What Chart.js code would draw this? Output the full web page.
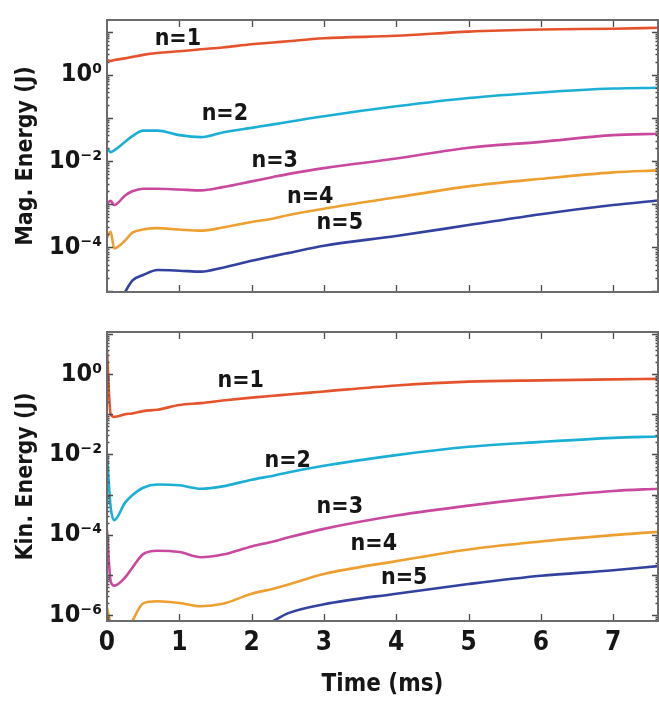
<!DOCTYPE html>
<html>
<head>
<meta charset="utf-8">
<script src="https://cdn.jsdelivr.net/npm/chart.js@4/dist/chart.umd.min.js"></script>
<style>
  html, body { margin: 0; padding: 0; background: #fff; }
  #wrap { position: relative; width: 659px; height: 702px; }
  .pane { position: absolute; left: 0; width: 659px; }
</style>
</head>
<body>
<div id="wrap">
  <div class="pane" style="top:0;height:312px"><canvas id="mag"></canvas></div>
  <div class="pane" style="top:312px;height:390px"><canvas id="kin"></canvas></div>
</div>
<script>
// Sample times (ms)
const time = [0, 0.05, 0.1, 0.25, 0.35, 0.5, 0.7, 1.0, 1.3, 1.6, 2.0, 2.3, 2.5, 3.0, 4.0, 5.0, 6.0, 7.0, 7.62];
const modeNames = ['n=1', 'n=2', 'n=3', 'n=4', 'n=5'];
const xTicks = [0, 1, 2, 3, 4, 5, 6, 7];

// Magnetic energy per toroidal mode (J)
const magN1 = [2.2, 2.1, 2.2, 2.4, 2.6, 2.9, 3.2, 3.5, 3.9, 4.3, 5.1, 5.6, 6.0, 7.0, 8.0, 10.0, 11.2, 11.7, 12.3];
const magN2 = [0.020, 0.0162, 0.0178, 0.028, 0.038, 0.051, 0.051, 0.040, 0.036, 0.046, 0.059, 0.071, 0.081, 0.11, 0.186, 0.29, 0.39, 0.48, 0.50];
const magN3 = [1.05e-3, 1.2e-3, 9.6e-4, 1.6e-3, 2.0e-3, 2.3e-3, 2.3e-3, 2.2e-3, 2.1e-3, 2.5e-3, 3.4e-3, 4.3e-3, 5.0e-3, 6.9e-3, 0.0115, 0.0204, 0.028, 0.040, 0.043];
const magN4 = [1.7e-4, 2.3e-4, 9.5e-5, 1.45e-4, 2.2e-4, 2.6e-4, 2.8e-4, 2.6e-4, 2.45e-4, 2.9e-4, 3.9e-4, 4.7e-4, 5.6e-4, 7.9e-4, 1.45e-3, 2.6e-3, 3.9e-3, 5.5e-3, 6.1e-3];
const magN5 = [null, null, null, 9.3e-6, 1.7e-5, 2.3e-5, 3.0e-5, 2.9e-5, 2.75e-5, 3.4e-5, 4.9e-5, 6.3e-5, 7.4e-5, 1.1e-4, 1.85e-4, 3.3e-4, 5.9e-4, 9.6e-4, 1.23e-3];

// Kinetic energy per toroidal mode (J)
const kinN1 = [3.9, 0.10, 0.086, 0.10, 0.105, 0.12, 0.13, 0.17, 0.19, 0.22, 0.26, 0.29, 0.31, 0.37, 0.52, 0.65, 0.70, 0.74, 0.76];
const kinN2 = [0.0105, 5e-4, 2.3e-4, 6.3e-4, 9.6e-4, 1.48e-3, 1.78e-3, 1.7e-3, 1.4e-3, 1.6e-3, 2.35e-3, 2.95e-3, 3.55e-3, 5.2e-3, 9.6e-3, 0.0155, 0.0205, 0.0259, 0.028];
const kinN3 = [1.3e-4, 7e-6, 5.4e-6, 8.6e-6, 1.5e-5, 3.3e-5, 4.0e-5, 3.7e-5, 2.75e-5, 3.2e-5, 5.1e-5, 6.8e-5, 8.5e-5, 1.4e-4, 3.0e-4, 5.3e-4, 8.5e-4, 1.23e-3, 1.4e-3];
const kinN4 = [1.5e-6, 6e-7, null, null, 7.1e-7, 1.95e-6, 2.2e-6, 2.0e-6, 1.65e-6, 1.9e-6, 3.4e-6, 4.5e-6, 5.7e-6, 1.05e-5, 2.2e-5, 4.3e-5, 6.8e-5, 9.8e-5, 1.18e-4];
const kinN5 = [null, null, null, null, null, null, null, null, null, null, null, 7.1e-7, 1.1e-6, 1.85e-6, 3.4e-6, 5.9e-6, 9.5e-6, 1.3e-5, 1.65e-5];

// Where each mode name sits (time in ms, energy in J)
const magTagTime = [0.98, 1.63, 2.32, 2.81, 3.22];
const magTagEnergy = [6.6, 0.125, 0.01, 1.5e-3, 3.6e-4];
const kinTagTime = [1.85, 2.50, 3.22, 3.69, 4.11];
const kinTagEnergy = [0.68, 6.8e-3, 4.8e-4, 5.7e-5, 8.5e-6];

const modeColors = ['#e5532d', '#1bafd6', '#c9499e', '#eda030', '#3341a0'];
const FONT = '"DejaVu Sans Condensed", "Liberation Sans Narrow", "DejaVu Sans", sans-serif';
const INK = '#161616';

const SUP = { '-': '\u207B', '0': '\u2070', '1': '\u00B9', '2': '\u00B2', '3': '\u00B3', '4': '\u2074', '5': '\u2075', '6': '\u2076', '7': '\u2077', '8': '\u2078', '9': '\u2079' };
const powerLabel = e => '10' + String(e).split('').map(c => SUP[c]).join('');

function decadeTicks(lo, hi) {
  const out = [];
  for (let e = lo; e <= hi; e++) {
    for (let m = 1; m <= 9; m++) out.push({ value: m * Math.pow(10, e) });
  }
  return out;
}

// Box round the plot area with inward tick marks on all four sides
const framePlugin = {
  id: 'frame',
  afterDatasetsDraw(chart) {
    const { ctx, chartArea: a, scales: { x, y } } = chart;
    ctx.save();
    ctx.strokeStyle = '#4a4a4a';
    ctx.lineWidth = 1.3;
    ctx.beginPath();
    x.ticks.forEach(t => {
      const px = Math.round(x.getPixelForValue(t.value)) + 0.5;
      if (px <= a.left + 1 || px >= a.right - 1) return;
      ctx.moveTo(px, a.bottom); ctx.lineTo(px, a.bottom - 7);
      ctx.moveTo(px, a.top); ctx.lineTo(px, a.top + 7);
    });
    y.ticks.forEach(t => {
      if (t.value < y.min || t.value > y.max) return;
      const e = Math.log10(t.value);
      const major = Math.abs(e - Math.round(e)) < 1e-6;
      const len = major ? 6 : 2.5;
      const py = Math.round(y.getPixelForValue(t.value)) + 0.5;
      ctx.moveTo(a.left, py); ctx.lineTo(a.left + len, py);
      ctx.moveTo(a.right, py); ctx.lineTo(a.right - len, py);
    });
    ctx.stroke();
    ctx.strokeStyle = '#6b6b6b';
    ctx.lineWidth = 2;
    ctx.strokeRect(a.left, a.top, a.right - a.left, a.bottom - a.top);
    ctx.restore();
  }
};

// Mode names written next to their curves
const tagPlugin = {
  id: 'modeTags',
  afterDatasetsDraw(chart, args, opts) {
    const { ctx, scales: { x, y } } = chart;
    ctx.save();
    ctx.fillStyle = INK;
    ctx.font = 'bold 23px ' + FONT;
    ctx.textAlign = 'center';
    ctx.textBaseline = 'middle';
    opts.names.forEach((name, i) => {
      ctx.fillText(name, x.getPixelForValue(opts.t[i]), y.getPixelForValue(opts.e[i]));
    });
    ctx.restore();
  }
};

function buildPanel(canvasId, series, yMin, yMax, decLo, decHi, yTitle, tagT, tagE, bottomPanel) {
  const datasets = series.map((vals, i) => ({
    label: modeNames[i],
    data: time.map((t, k) => ({ x: t, y: vals[k] })),
    borderColor: modeColors[i],
    backgroundColor: modeColors[i],
    borderWidth: 2.6,
    pointRadius: 0,
    cubicInterpolationMode: 'monotone',
    spanGaps: false,
    clip: 0
  }));
  return new Chart(document.getElementById(canvasId), {
    type: 'line',
    data: { datasets },
    plugins: [framePlugin, tagPlugin],
    options: {
      responsive: true,
      maintainAspectRatio: false,
      animation: false,
      layout: { padding: { top: bottomPanel ? 14 : 9, right: 1, left: 0, bottom: 0 } },
      plugins: {
        legend: { display: false },
        tooltip: { enabled: false },
        modeTags: { names: modeNames, t: tagT, e: tagE }
      },
      scales: {
        x: {
          type: 'linear',
          min: 0,
          max: 7.62,
          afterBuildTicks: s => { s.ticks = xTicks.map(v => ({ value: v })); },
          ticks: {
            display: bottomPanel,
            autoSkip: false,
            includeBounds: false,
            color: INK,
            padding: 7,
            font: { family: FONT, size: 26, weight: 'bold' },
            callback: v => String(v)
          },
          grid: { display: false, drawTicks: false },
          border: { display: false },
          title: {
            display: bottomPanel,
            text: 'Time (ms)',
            color: INK,
            font: { family: FONT, size: 24, weight: 'bold' },
            padding: { top: 0, bottom: 3 }
          },
          afterFit: s => { s.height = bottomPanel ? 81 : 10; }
        },
        y: {
          type: 'logarithmic',
          min: yMin,
          max: yMax,
          afterBuildTicks: s => { s.ticks = decadeTicks(decLo, decHi); },
          ticks: {
            autoSkip: false,
            color: INK,
            padding: 5,
            font: { family: FONT, size: 25, weight: 'bold' },
            callback: v => {
              const e = Math.round(Math.log10(v));
              if (Math.abs(Math.log10(v) - e) > 1e-6 || e % 2 !== 0) return '';
              return powerLabel(e);
            }
          },
          grid: { display: false, drawTicks: false },
          border: { display: false },
          title: {
            display: true,
            text: yTitle,
            color: INK,
            font: { family: FONT, size: 23, weight: 'bold' },
            padding: { top: 12, bottom: 0 }
          },
          afterFit: s => { s.width = 107; }
        }
      }
    }
  });
}

buildPanel('mag', [magN1, magN2, magN3, magN4, magN5], 9.3e-6, 18.6, -6, 1, 'Mag. Energy (J)', magTagTime, magTagEnergy, false);
buildPanel('kin', [kinN1, kinN2, kinN3, kinN4, kinN5], 7.1e-7, 11.2, -7, 1, 'Kin. Energy (J)', kinTagTime, kinTagEnergy, true);
</script>
</body>
</html>
